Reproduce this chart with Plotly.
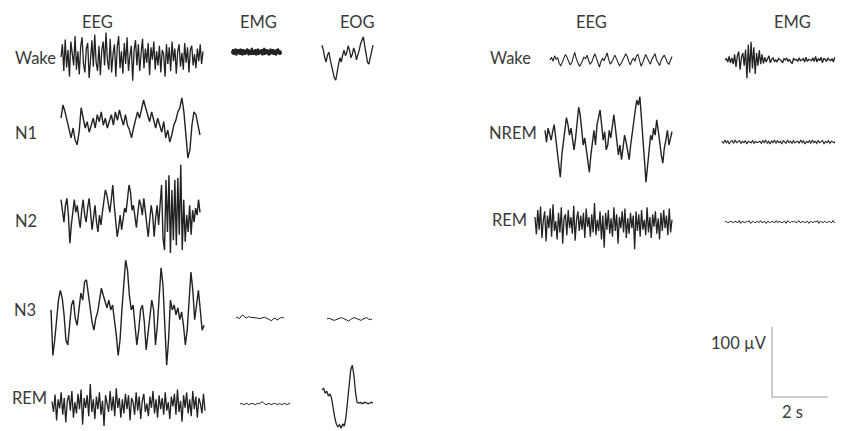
import numpy as np
import plotly.graph_objects as go

# ---------------- data (µV samples) ----------------
stages_left = ["Wake", "N1", "N2", "N3", "REM"]
stages_right = ["Wake", "NREM", "REM"]
channels_left = ["EEG", "EMG", "EOG"]
channels_right = ["EEG", "EMG"]
scale_uv = 100
scale_s = 2
scale_labels = ["100 µV", "2 s"]

wake_eeg = [0, 18, -20, 25, -15, 10, -28, 22, 5, -12, 30, -18, 8, -25, 15, 28, -10, -22, 12, 20,
            -30, 6, 24, -14, 32, -8, -20, 16, -26, 10, 22, -12, 35, -5, -18, 26, -22, 4, 18, -28,
            14, 30, -16, 8, -24, 20, -10, 28, -20, 2, 16, -34, 10, 24, -12, 18, -20, 6, 26, -16,
            12, -8, 20, -26, 14, -4, 22, -18, 8, -12, 16, -22, 10, 4, -28, 18, -10, 14, -20, 22,
            -6, 12, -24, 8, 18, -14, 6, -18, 20, -8, 14, -22, 10, 16, -12, 4, -16, 12, -6, 18, -10, 8]
wake_emg = [2, -3, 4, -4, 3, -2, 5, -5, 2, -3, 4, -1, 3, -4, 5, -3, 2, -5, 4, -2, 3, -4, 1, -3, 5,
            -2, 4, -5, 3, -1, 2, -4, 6, -3, 2, -4, 3, -2, 4, -5, 2, -3, 5, -4, 3, -2, 1, -3, 4, -5,
            3, -2, 6, -4, 2, -3, 4, -1, 3, -5, 2, -4, 5, -3, 2, -2, 4, -4, 3, -1, 2, -5, 4, -3, 5,
            -2, 3, -4, 2, -3]
wake_eog = [14, 7, -4, -10, 0, 4, -7, -16, -24, -33, -36, -21, -13, -4, -10, 0, 7, -1, 4, 13,
            7, -4, 1, 10, 4, -7, -1, 7, 16, 21, 26, 13, 1, -10, -13, -4, 7, 14]
n1_eeg = [14, 33, 23, 11, -3, -14, 0, -17, -24, -6, 29, 14, 0, 9, -6, 4, 14, 0, 19, 9,
          23, 4, 14, 0, 11, 19, 4, 23, 11, 26, 14, 4, 19, 4, -3, -14, 0, 11, 23, 14,
          29, 40, 29, 19, 9, 23, 11, 0, 14, 4, -6, 9, -14, -3, -20, -10, 4, 11, 23, 29,
          43, 23, -17, -43, -31, 4, 23, 19, 4, -10]
n2_eeg = [19, 4, -13, 11, 21, -3, -43, -17, 7, 19, 1, 11, -7, -21, 4, 19, -3, -13, 7, 21,
          1, -24, -7, 11, -13, -27, -3, -17, 1, 19, 33, 26, 11, 1, 19, 40, 11, -17, -34, -21,
          -3, -24, -10, 7, 1, 19, 40, 30, 4, 11, -7, -21, 1, 19, 11, -3, 21, 4, -13, -34,
          -10, 11, -3, -34, -7, 11, -17, 19, 40, -36, -53, 47, -27, 54, -57, 33, -39, 47, -46, 50,
          -31, 69, -53, 19, -41, -3, -27, 11, -31, 4, -13, 7, -3, 19, 1]
n3_eeg = [-7, -72, -50, -21, 7, 21, 10, -14, -50, -57, -29, 0, 7, -19, -29, -4, 17, 7, 33, 36,
          14, -7, -24, -36, -19, -10, 7, 24, 14, 4, -4, 7, -7, 0, -19, -43, -72, -50, -7, 29,
          64, 50, 14, -7, 0, -29, -57, -36, -7, 0, -24, -64, -43, -14, 7, -7, -57, -29, 14, 53,
          29, -21, -86, -50, 7, -7, 0, -14, -4, -21, -10, -29, -57, -36, 7, 47, 21, -21, 0, 21,
          -7, -36, -29]
n3_emg = [0, 1, -1, 3, 4, 1, 0, 2, 1, 1, 0, 1, 0, -1, 0, 0, 1, 0, -1, -2, -4, -1, 0, -3, -1, 0, 1, 0]
n3_eog = [0, 1, 0, -1, -2, -1, 0, 1, 2, 1, 0, -2, -3, -1, 0, 2, 1, 0, -1, -2, 0, 1, 2, 0, -1, 0]
rem_eeg = [5, -10, 15, -22, 8, -5, 18, -14, 10, -25, 6, 14, -8, 20, -18, 4, -12, 16, -6, 22,
           -28, 10, -4, 14, -16, 30, -10, 8, -20, 12, -6, 18, -14, 6, -30, 14, 2, -10, 20, -8,
           12, -16, 24, -4, 10, -18, 8, -12, 16, -6, 14, -22, 10, 4, -14, 18, -8, 12, -20, 6,
           16, -10, 2, -16, 12, -4, 20, -12, 8, -18, 14, -6, 10, -14, 18, -8, 4, -20, 12, -2,
           16, -14, 22, -10, 6, -24, 14, -4, 18, -12, 8, -16, 20, -6, 12, -18, 10, 2, -12, 16, -8]
rem_emg = [0, 1, -1, 0, 1, -1, 0, 1, 0, -1, 1, 0, 2, 3, 1, -1, 0, 1, -1, 0, 1, 0, -1, 1, -1, 0, 1, -1, 0, 1]
rem_eog = [19, 21, 14, 17, 10, 13, 7, -10, -21, -30, -34, -31, -36, -30, -33, -21, 4, 26, 47, 54,
           40, 16, 1, 0, 1, -1, 0, 1, 0, -1, 0, 1, 0]

wake_eeg_r = [0, 4, -2, 6, 1, 3, -5, -8, -3, 2, 8, 4, -1, -7, -4, 5, 11, 2, -3, -9,
              -6, 0, 4, 2, 7, -1, -6, -3, 3, 9, 3, -5, -10, -2, 2, -1, 6, 10, 1, -6,
              -3, 2, 7, 2, -4, -8, -5, 1, 4, 9, 5, -2, -7, -1, 3, -2, 6, 8, -3, -9,
              -4, 2, 8, 3, -2, -6, 1, 5, 9, 0, -5, -8, 0, 4, 7, 2, -4, -6, 1, 5]
wake_emg_r = [0, 2, -3, 5, -4, 3, -6, 8, -10, 6, 12, -14, 4, 10, -8, 15, -26, 22, -18, 26,
              -12, 18, -20, 10, -8, 14, -6, 8, -5, 4, -3, 2, 6, -4, 1, 3, -2, 0, -3, 2,
              1, -1, -4, 2, 0, 3, -2, 1, -3, -5, 2, 0, 1, -2, 3, -1, 0, 2, -3, 4,
              -2, 1, 0, -1, 3, -2, 5, -3, 2, -1, 4, -4, 2, 1, -2, 3, 0, -1, 2, -3,
              4, 1, -2, 3, -1, 2, 0]
nrem_eeg = [11, -6, 14, 4, -3, 9, 19, 0, -17, -34, -56, -24, -3, 14, 29, 19, 4, 14, -3, -17,
            0, 26, 44, 33, 9, -10, 0, -17, -31, -49, -24, -3, 11, -10, 19, 29, 40, 19, -3, 9,
            -17, -10, 11, 0, 19, 33, 14, -3, -24, -10, -31, -14, 4, -6, -17, -31, -10, 9, 26, 40,
            54, 47, 59, 33, -3, -31, -63, -39, -14, 4, -3, 14, 4, 26, 11, -10, -24, -36, -14, -3,
            11, -10, 0, 9]
nrem_emg = [1, -2, 3, -1, 2, -3, 1, 2, -2, 3, -1, 0, 2, -2, 1, -1, 2, -3, 1, 0,
            -1, 2, -2, 1, -1, 0, 1, -2, 2, -1, 3, -2, 1, -3, 2, -1, 3, -2, 2, -1,
            1, -3, 2, 0, -2, 3, -1, 1, -2, 2, -1, 0, 1, -2, 3, -1, 2, -3, 1, -1,
            2, -2, 3, -1, 1, -2, 2, -1, 0, 2, -3, 1, -1, 2, -2, 1, 0, -1, 2, -2,
            3, -1, 1, -2]
rem_eeg_r = [10, -15, 20, -8, 25, -20, 5, 18, -25, 12, -6, 22, -18, 28, -10, 4, -22, 16, -12, 24,
             -28, 8, 14, -16, 20, -6, 10, -14, 26, -24, 6, 18, -10, 12, -8, 16, -20, 22, -4, 10,
             -18, 14, -12, 30, -16, 6, -10, 18, -22, 12, -34, 16, -8, 20, -14, 8, -18, 24, -10, 14,
             -28, 10, -6, 18, -12, 22, -20, 8, -14, 16, -6, 12, -36, 18, -10, 14, -18, 20, -8, 6,
             -16, 24, -12, 10, -20, 14, -4, 18, -14, 8, -22, 16, -10, 20, -6, 12, -16, 22, -12, 6]
rem_emg_r = [0, 1, -1, 0, 1, 0, -1, 1, 0, -1, 2, -2, 1, 0, -1, 1, 0, 2, -2, 0,
             1, -1, 0, 1, -1, 2, -1, 0, 1, -2, 1, 0, -1, 1, 0, -1, 2, -1, 1, 0,
             -1, 0, 1, -2, 2, 0, -1, 1, 0, 1, -1, 0, 2, -1, 0, 1, -1, 0, 1, -2,
             1, 0, -1, 1, 0, 2, -2, 1, 0, -1, 1, 0, -1, 1, 0, -1, 2, -1, 0, 1, -1, 0, 1, 0]

# ---------------- layout (positions in page pixels) ----------------
W, H = 843, 431
OFF = 8              # default page body margin
PX_PER_UV = 0.7      # 100 µV -> 70 px
PX_PER_S = 28        # 2 s -> 56 px
INK = "#222222"
TXT = "#3a3a3a"
FONT = "Lato"

# (values, x_start, x_end, baseline_y, line width)
traces = [
    (wake_eeg, 61, 203, 57, 1.3), (wake_emg, 232, 281, 52, 2.2), (wake_eog, 322, 373, 55, 1.3),
    (n1_eeg, 61, 200, 128, 1.4),
    (n2_eeg, 61, 200, 213, 1.4),
    (n3_eeg, 51, 204, 305, 1.4), (n3_emg, 236, 284, 318, 1.0), (n3_eog, 327, 372, 319, 1.0),
    (rem_eeg, 52, 205, 405, 1.3), (rem_emg, 240, 290, 404, 1.0), (rem_eog, 322, 373, 403, 1.3),
    (wake_eeg_r, 550, 672, 60, 1.1), (wake_emg_r, 725, 843, 60, 1.3),
    (nrem_eeg, 545, 672, 138, 1.4), (nrem_emg, 722, 843, 142, 1.1),
    (rem_eeg_r, 535, 672, 224, 1.3), (rem_emg_r, 725, 843, 222, 1.0),
]

fig = go.Figure()
for vals, x0, x1, yc, lw in traces:
    v = np.asarray(vals, dtype=float)
    xs = np.linspace(x0, x1, len(v))
    ys = yc - v * PX_PER_UV
    fig.add_trace(go.Scatter(x=xs, y=ys, mode="lines",
                             line=dict(color=INK, width=lw, shape="linear"),
                             hoverinfo="skip", showlegend=False, cliponaxis=False))

# scale bar
bx, by = 772, 397
fig.add_trace(go.Scatter(
    x=[bx, bx, bx + scale_s * PX_PER_S],
    y=[by - scale_uv * PX_PER_UV, by, by],
    mode="lines", line=dict(color="#bdbdbd", width=1.6),
    hoverinfo="skip", showlegend=False))

ann = []
def txt(s, x, y, xanchor="center", size=16.5):
    ann.append(dict(text=s, x=x, y=y, xref="x", yref="y", showarrow=False,
                    xanchor=xanchor, yanchor="middle",
                    font=dict(family=FONT, size=size, color=TXT)))

# column headers
for name, x in zip(channels_left, [97, 258, 357]):
    txt(name, x, 22)
for name, x in zip(channels_right, [591, 792]):
    txt(name, x, 22)
# row labels
for name, x, y in zip(stages_left, [13, 13, 13, 12, 10], [58, 133, 221, 310, 398]):
    txt(name, x, y, xanchor="left")
for name, x, y in zip(stages_right, [488, 487, 490], [58, 133, 220]):
    txt(name, x, y, xanchor="left")
# scale labels
txt(scale_labels[0], 769, 343, xanchor="right")
txt(scale_labels[1], 792, 412)

fig.update_layout(
    width=W - OFF, height=H - OFF, margin=dict(l=0, r=0, t=0, b=0),
    paper_bgcolor="white", plot_bgcolor="white",
    xaxis=dict(range=[OFF, W], visible=False, fixedrange=True),
    yaxis=dict(range=[H, OFF], visible=False, fixedrange=True),
    annotations=ann,
)
fig.write_html("out.html")
